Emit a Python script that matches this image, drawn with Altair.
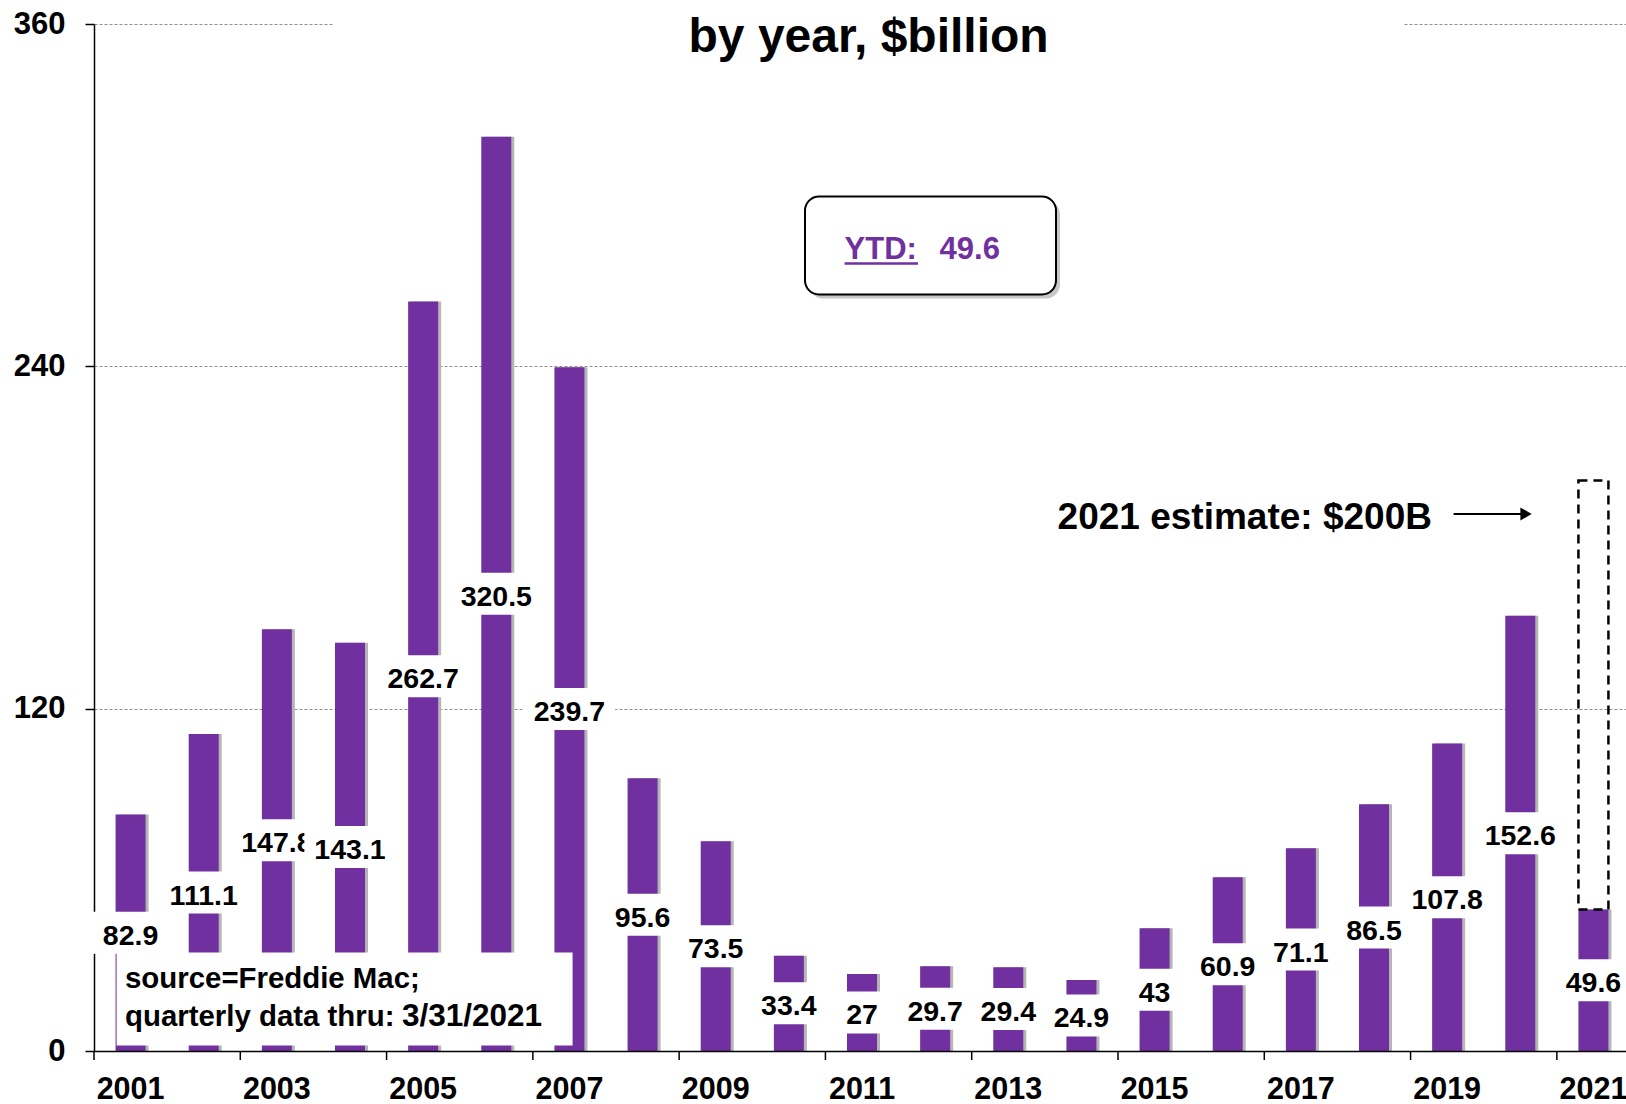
import altair as alt
import pandas as pd

# ---------------- data ----------------
years = [str(y) for y in range(2001, 2022)]
values = [82.9, 111.1, 147.8, 143.1, 262.7, 320.5, 239.7, 95.6, 73.5, 33.4, 27.0,
          29.7, 29.4, 24.9, 43.0, 60.9, 71.1, 86.5, 107.8, 152.6, 49.6]
labels = ["82.9", "111.1", "147.8", "143.1", "262.7", "320.5", "239.7", "95.6", "73.5",
          "33.4", "27", "29.7", "29.4", "24.9", "43", "60.9", "71.1", "86.5", "107.8",
          "152.6", "49.6"]
axis_years = years[::2]
y_ticks = [0, 120, 240, 360]
estimate_year = "2021"
estimate_value = 200
ytd_value = 49.6
title_text = "by year, $billion"
source_line1 = "source=Freddie Mac;"
source_line2 = "quarterly data thru:"
source_date = "3/31/2021"
estimate_text = "2021 estimate: $200B"
ytd_label = "YTD:"

# ---------------- style ----------------
PURPLE = "#7030A0"
FONT = "Liberation Sans"
W, H = 1532, 1027
LBL = 28.5

df = pd.DataFrame({"year": years, "value": values, "label": labels})
df["parity"] = [i % 2 for i in range(len(years))]

x_scale = alt.Scale(domain=years, range=[0, 1536], paddingInner=0, paddingOuter=0)
x_axis = alt.Axis(
    values=axis_years, labelAngle=0, title=None, ticks=False,
    domainColor="black", domainWidth=1.5, labelFont=FONT, labelFontSize=30.5,
    labelFontWeight="bold", labelColor="black", labelPadding=23, grid=False, zindex=1,
)
x_enc = alt.X("year:O", scale=x_scale, axis=x_axis)

yscale = alt.Scale(domain=[0, 360], nice=False, zero=True)
y_axis = alt.Axis(
    values=y_ticks, title=None, grid=True, gridDash=[3, 2], gridColor="#8f8f8f",
    gridWidth=1, domainColor="black", domainWidth=1.5, tickColor="black",
    tickWidth=1.5, tickSize=9, labelFont=FONT, labelFontSize=31,
    labelFontWeight="bold", labelColor="black", labelPadding=20,
)


def yq(field):
    return alt.Y(field, scale=yscale, axis=y_axis)


base = alt.Chart(df)

shadow = base.mark_bar(color="#b5b5b5", width=30, xOffset=3).encode(x=x_enc, y=yq("value:Q"))
bars = base.mark_bar(color=PURPLE, width=30).encode(x=x_enc, y=yq("value:Q"))

est_df = pd.DataFrame({"year": [estimate_year], "lo": [ytd_value], "hi": [estimate_value]})
est_box = alt.Chart(est_df).mark_bar(
    fill="transparent", stroke="black", strokeDash=[9, 6], strokeWidth=2.5, width=30
).encode(x=x_enc, y=yq("lo:Q"), y2="hi:Q")

# x-axis ticks at the start of every other year band
tick_df = pd.DataFrame({"year": axis_years})
x_ticks = alt.Chart(tick_df).mark_rule(color="black", strokeWidth=1.5).encode(
    x=alt.X("year:O", scale=x_scale, axis=x_axis, bandPosition=0),
    y=alt.value(H), y2=alt.value(H + 9),
)


def label_layers(p):
    d = base.transform_filter(f"datum.parity == {p}").transform_calculate(
        mid="datum.value / 2",
        lo="datum.value / 2 - 7.36",
        hi="datum.value / 2 + 7.36",
        hasdot="indexof(datum.label, '.') >= 0 ? 1 : 0",
    ).transform_calculate(
        boxw=f"(length(datum.label) - datum.hasdot) * {0.556 * LBL} + datum.hasdot * {0.278 * LBL} + 20"
    )
    box = d.mark_bar(color="white").encode(
        x=x_enc, y=yq("lo:Q"), y2="hi:Q",
        size=alt.Size("boxw:Q", scale=None, legend=None),
    )
    txt = d.mark_text(font=FONT, fontSize=LBL, fontWeight="bold", color="black",
                      baseline="middle", dy=3).encode(
        x=x_enc, y=yq("mid:Q"), text="label:N"
    )
    return [box, txt]


def txt_chart(s, x, y, size, color="black", align="left", baseline="middle"):
    return alt.Chart(pd.DataFrame({"t": [s]})).mark_text(
        font=FONT, fontSize=size, fontWeight="bold", color=color, align=align,
        baseline=baseline,
    ).encode(x=alt.value(x), y=alt.value(y), text="t:N")


one = pd.DataFrame({"k": [0]})

src_box = alt.Chart(one).mark_rect(color="white").encode(
    x=alt.value(22.6), x2=alt.value(478.6), y=alt.value(928.5), y2=alt.value(1021.5))
src1 = txt_chart(source_line1, 31, 955, 29.4)
src2 = txt_chart(source_line2, 31, 992.5, 29.4)
src3 = txt_chart(source_date, 308, 992.5, 31.5)

title_box = alt.Chart(one).mark_rect(color="white").encode(
    x=alt.value(239.6), x2=alt.value(1309.6), y=alt.value(-24), y2=alt.value(36))
title = txt_chart(title_text, 774.6, 28, 48, align="center", baseline="alphabetic")

ytd_shadow = alt.Chart(one).mark_rect(color="#9a9a9a", opacity=0.55, cornerRadius=14).encode(
    x=alt.value(715), x2=alt.value(966), y=alt.value(176.5), y2=alt.value(274.5))
ytd_box = alt.Chart(one).mark_rect(fill="white", stroke="black", strokeWidth=2, cornerRadius=14).encode(
    x=alt.value(711), x2=alt.value(962), y=alt.value(172.5), y2=alt.value(270.5))
ytd_t1 = txt_chart(ytd_label, 750.6, 225.5, 31, color=PURPLE)
ytd_ul = alt.Chart(one).mark_rule(color=PURPLE, strokeWidth=2.5).encode(
    x=alt.value(750.6), x2=alt.value(824), y=alt.value(239.5))
ytd_t2 = txt_chart(str(ytd_value), 845.6, 225.5, 31, color=PURPLE)

est_t = txt_chart(estimate_text, 963.6, 494, 37)
arrow_line = alt.Chart(one).mark_rule(color="black", strokeWidth=2).encode(
    x=alt.value(1359.6), x2=alt.value(1430), y=alt.value(490))
arrow_head = alt.Chart(one).mark_point(shape="triangle-right", filled=True, color="black",
                                       size=170, opacity=1).encode(
    x=alt.value(1432), y=alt.value(490))

layers = [shadow, bars, est_box] + label_layers(0) + label_layers(1) + [
    x_ticks, src_box, src1, src2, src3, title_box, title,
    ytd_shadow, ytd_box, ytd_t1, ytd_ul, ytd_t2, est_t, arrow_line, arrow_head,
]

chart = alt.layer(*layers).properties(
    width=W, height=H,
    autosize=alt.AutoSizeParams(type="none"),
    padding={"left": 94, "top": 24, "right": 0, "bottom": 53},
    background="white",
).configure_view(stroke="transparent")

chart.save("out.html", embed_options={"renderer": "svg", "actions": False})
